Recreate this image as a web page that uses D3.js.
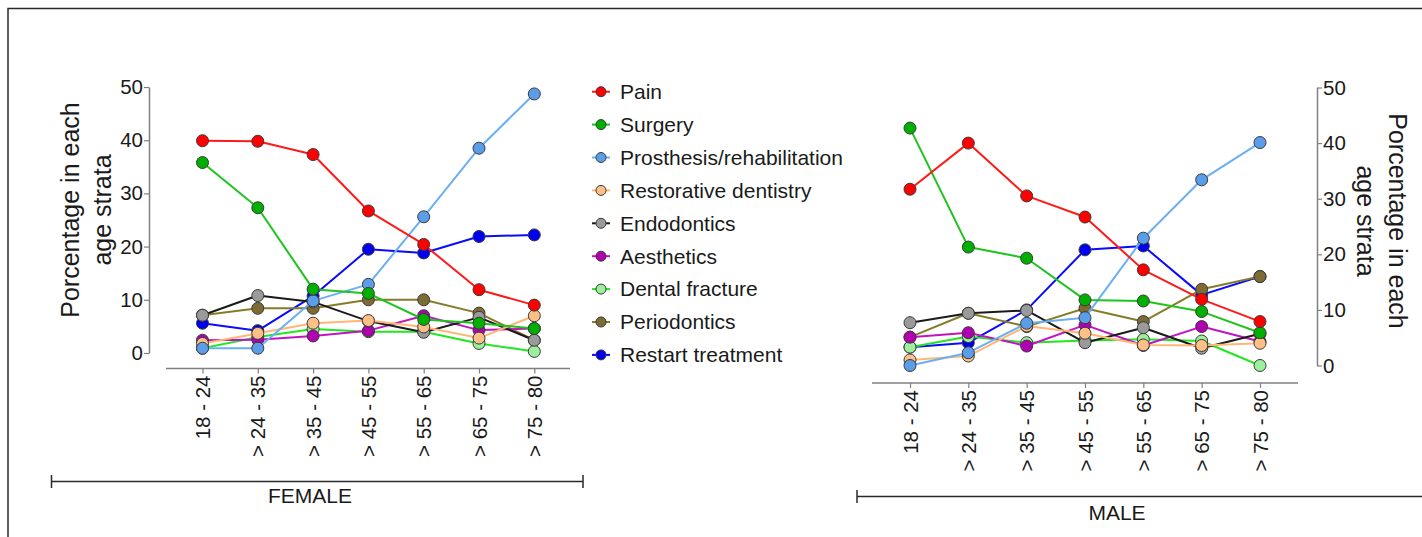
<!DOCTYPE html>
<html>
<head>
<meta charset="utf-8">
<script src="https://cdn.jsdelivr.net/npm/d3@7"></script>
<style>
  html, body { margin: 0; padding: 0; background: #fff; }
  svg { display: block; font-family: "Liberation Sans", Arial, sans-serif; }
</style>
</head>
<body>
<svg id="chart" width="1422" height="537"></svg>
<script>
// ---------- DATA ----------
const categories = ["18 - 24", "> 24 - 35", "> 35 - 45", "> 45 - 55", "> 55 - 65", "> 65 - 75", "> 75 - 80"];
const seriesNames = ["Pain", "Surgery", "Prosthesis/rehabilitation", "Restorative dentistry", "Endodontics",
                     "Aesthetics", "Dental fracture", "Periodontics", "Restart treatment"];
const yTicks = [0, 10, 20, 30, 40, 50];

// Female values (% in each age stratum)
const femalePain         = [39.9, 39.8, 37.3, 26.7, 20.4, 11.9, 9.0];
const femaleSurgery      = [35.8, 27.3, 12.0, 11.2, 6.3, 5.6, 4.6];
const femaleProsthesis   = [0.9, 0.9, 9.8, 12.9, 25.6, 38.5, 48.7];
const femaleRestorative  = [1.8, 3.7, 5.6, 6.1, 4.9, 2.8, 7.0];
const femaleEndodontics  = [7.1, 10.8, 9.6, 6.0, 3.9, 6.7, 2.4];
const femaleAesthetics   = [2.4, 2.5, 3.2, 4.2, 7.0, 4.3, 4.6];
const femaleFracture     = [0.9, 3.0, 4.5, 4.0, 4.0, 1.8, 0.3];
const femalePeriodontics = [7.1, 8.4, 8.4, 10.0, 10.0, 7.5, 2.4];
const femaleRestart      = [5.6, 4.2, 10.7, 19.5, 18.8, 21.9, 22.2];

// Male values
const malePain         = [31.7, 40.0, 30.5, 26.7, 17.2, 11.9, 7.9];
const maleSurgery      = [42.7, 21.3, 19.3, 11.8, 11.6, 9.7, 5.9];
const maleProsthesis   = [0.0, 2.3, 7.6, 8.6, 22.9, 33.4, 40.1];
const maleRestorative  = [1.0, 1.7, 7.1, 5.8, 3.7, 3.6, 4.0];
const maleEndodontics  = [7.7, 9.4, 9.9, 4.1, 6.8, 3.1, 5.7];
const maleAesthetics   = [5.1, 5.9, 3.5, 7.3, 3.6, 7.0, 4.3];
const maleFracture     = [3.3, 5.2, 4.1, 4.5, 4.7, 4.4, 0.0];
const malePeriodontics = [5.1, 9.4, 7.0, 10.3, 7.9, 13.7, 16.0];
const maleRestart      = [3.3, 4.1, 10.0, 20.8, 21.5, 12.7, 16.0];

const femaleData = [femalePain, femaleSurgery, femaleProsthesis, femaleRestorative, femaleEndodontics,
                    femaleAesthetics, femaleFracture, femalePeriodontics, femaleRestart];
const maleData = [malePain, maleSurgery, maleProsthesis, maleRestorative, maleEndodontics,
                  maleAesthetics, maleFracture, malePeriodontics, maleRestart];

// ---------- STYLE ----------
const lineColors = ["#ff1a1a", "#1ec41e", "#6aaff5", "#ffb676", "#1a1a1a", "#c214c2", "#22e622", "#857c27", "#0a0aff"];
const fillColors = ["#ff0000", "#00b000", "#5a9eea", "#ffc088", "#9a9a9a", "#b000b0", "#9cf09c", "#7d6b35", "#0000f0"];
const FONT = "#1a1a1a";
const AXIS = "#808080";

const svg = d3.select("#chart");

// Frame
svg.append("path").attr("d", "M8,537V8.5H1422").attr("fill", "none").attr("stroke", "#2a2a2a").attr("stroke-width", 1.5);

function drawPanel(cfg) {
  const x = d3.scalePoint().domain(categories).range(cfg.xRange);
  const y = d3.scaleLinear().domain([0, 50]).range(cfg.yRange);
  const g = svg.append("g");

  // y axis
  const yAxis = (cfg.side === "left" ? d3.axisLeft(y) : d3.axisRight(y))
    .tickValues(yTicks).tickSize(5).tickSizeOuter(0).tickPadding(1);
  const ya = g.append("g").attr("transform", `translate(${cfg.yAxisX},0)`).call(yAxis);
  ya.select(".domain").attr("stroke", AXIS).attr("stroke-width", 1.5);
  ya.selectAll(".tick line").attr("stroke", AXIS).attr("stroke-width", 1.2);
  ya.selectAll(".tick text").attr("fill", FONT).style("font-size", "20.5px")
    .style("font-family", "'Liberation Sans', Arial, sans-serif");

  // x axis
  const xAxis = d3.axisBottom(x).tickSize(5).tickSizeOuter(0);
  const xa = g.append("g").attr("transform", `translate(0,${cfg.xAxisY})`).call(xAxis);
  xa.select(".domain").remove();
  xa.append("line").attr("x1", cfg.xLine[0]).attr("x2", cfg.xLine[1])
    .attr("stroke", AXIS).attr("stroke-width", 1.5);
  xa.selectAll(".tick line").attr("stroke", AXIS).attr("stroke-width", 1.2);
  xa.selectAll(".tick text")
    .attr("fill", FONT).style("font-size", "20.5px")
    .style("font-family", "'Liberation Sans', Arial, sans-serif")
    .attr("text-anchor", "end")
    .attr("transform", "rotate(-90)")
    .attr("x", -7).attr("y", 0).attr("dy", "0.35em");

  // series (drawn in reverse order so the first legend entry is on top)
  const line = d3.line().x((d, i) => x(categories[i])).y(d => y(d));
  for (let s = cfg.data.length - 1; s >= 0; s--) {
    const vals = cfg.data[s];
    g.append("path").datum(vals).attr("d", line)
      .attr("fill", "none").attr("stroke", lineColors[s]).attr("stroke-width", 2)
      .attr("stroke-linejoin", "round");
    g.selectAll(null).data(vals).enter().append("circle")
      .attr("cx", (d, i) => x(categories[i])).attr("cy", d => y(d)).attr("r", 6)
      .attr("fill", fillColors[s]).attr("stroke", "#3a3a3a").attr("stroke-width", 1);
  }

  // y title
  const t = g.append("text").attr("fill", FONT).style("font-size", "25px").attr("text-anchor", "middle")
    .attr("transform", `translate(${cfg.titleX},${cfg.titleY}) rotate(${cfg.side === "left" ? -90 : 90})`);
  t.append("tspan").attr("x", 0).attr("y", 0).attr("dy", "0.35em").text("Porcentage in each");
  t.append("tspan").attr("x", 0).attr("dy", "1.3em").text("age strata");

  // group bracket
  const b = cfg.bracket;
  const bg = g.append("g").attr("stroke", "#2a2a2a").attr("stroke-width", 1.5);
  bg.append("line").attr("x1", b.x1).attr("x2", b.x2).attr("y1", b.y).attr("y2", b.y);
  bg.append("line").attr("x1", b.x1).attr("x2", b.x1).attr("y1", b.y - 6.5).attr("y2", b.y + 6.5);
  if (b.x2 < 1420) bg.append("line").attr("x1", b.x2).attr("x2", b.x2).attr("y1", b.y - 6.5).attr("y2", b.y + 6.5);
  g.append("text").attr("x", b.labelX).attr("y", b.labelY).attr("text-anchor", "middle")
    .attr("fill", FONT).style("font-size", "21px").text(b.label);
}

drawPanel({
  side: "left", data: femaleData,
  xRange: [202.5, 534.3], yRange: [353, 87],
  yAxisX: 149, xAxisY: 368.5, xLine: [166, 570],
  titleX: 70, titleY: 210,
  bracket: { x1: 51.5, x2: 583, y: 481.5, label: "FEMALE", labelX: 310, labelY: 503 }
});

drawPanel({
  side: "right", data: maleData,
  xRange: [910, 1260], yRange: [365.5, 87.5],
  yAxisX: 1317, xAxisY: 383, xLine: [872, 1298],
  titleX: 1398, titleY: 221,
  bracket: { x1: 857, x2: 1424, y: 496.5, label: "MALE", labelX: 1117, labelY: 520 }
});

// Legend
const legend = svg.append("g");
seriesNames.forEach((name, i) => {
  const cy = 91.7 + i * 32.9;
  legend.append("line").attr("x1", 592).attr("x2", 610).attr("y1", cy).attr("y2", cy)
    .attr("stroke", lineColors[i]).attr("stroke-width", 2);
  legend.append("circle").attr("cx", 601).attr("cy", cy).attr("r", 5)
    .attr("fill", fillColors[i]).attr("stroke", "#3a3a3a").attr("stroke-width", 1);
  legend.append("text").attr("x", 620).attr("y", cy).attr("dy", "0.35em")
    .attr("fill", FONT).style("font-size", "21px").text(name);
});
</script>
</body>
</html>
